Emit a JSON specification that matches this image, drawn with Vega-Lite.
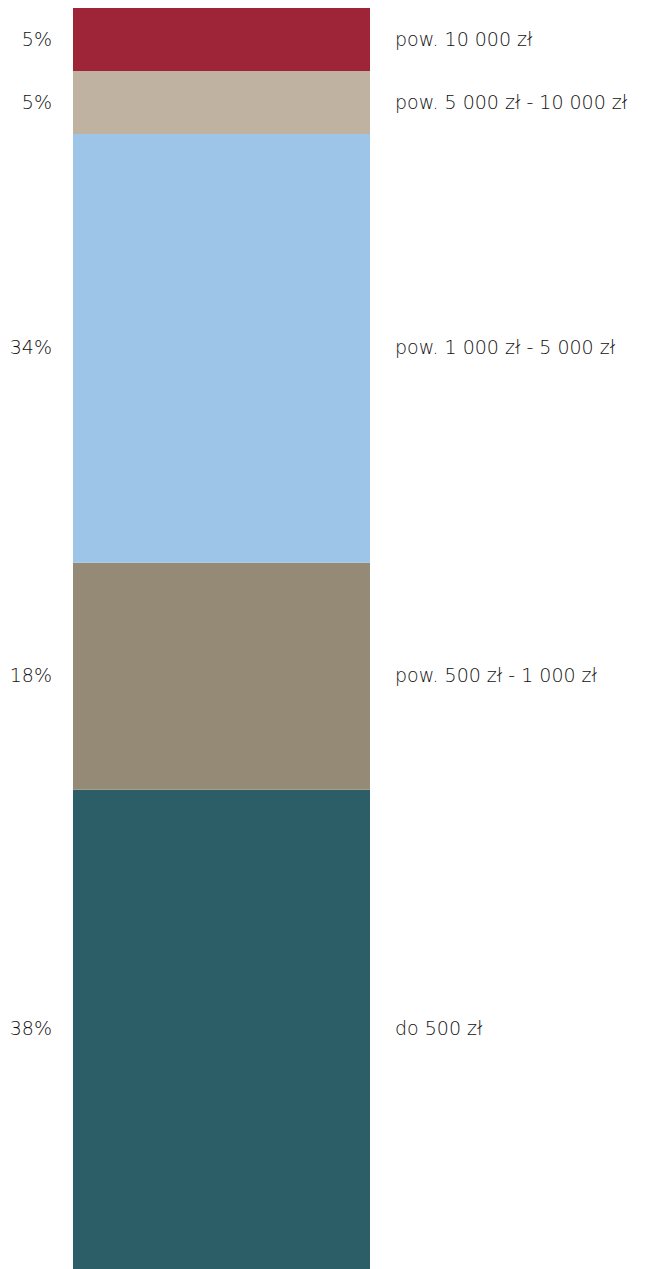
{
  "$schema": "https://vega.github.io/schema/vega-lite/v6.json",
  "width": 297,
  "height": 1261,
  "autosize": {"type": "none"},
  "padding": {"left": 73, "top": 8, "right": 294, "bottom": 0},
  "background": "white",
  "config": {"view": {"stroke": null}},
  "data": {
    "values": [
      {"rank": 1, "kategoria": "do 500 zł", "procent": 38},
      {"rank": 2, "kategoria": "pow. 500 zł - 1 000 zł", "procent": 18},
      {"rank": 3, "kategoria": "pow. 1 000 zł - 5 000 zł", "procent": 34},
      {"rank": 4, "kategoria": "pow. 5 000 zł - 10 000 zł", "procent": 5},
      {"rank": 5, "kategoria": "pow. 10 000 zł", "procent": 5}
    ]
  },
  "transform": [
    {"stack": "procent", "groupby": [], "sort": [{"field": "rank", "order": "ascending"}], "as": ["y0", "y1"]},
    {"calculate": "(datum.y0 + datum.y1) / 2", "as": "ymid"},
    {"calculate": "datum.procent + '%'", "as": "etykieta"}
  ],
  "layer": [
    {
      "mark": {"type": "bar", "stroke": null},
      "encoding": {
        "x": {"datum": 0, "type": "quantitative", "scale": {"domain": [0, 1]}, "axis": null},
        "x2": {"datum": 1},
        "y": {"field": "y0", "type": "quantitative", "scale": {"domain": [0, 100], "nice": false, "zero": true}, "axis": null},
        "y2": {"field": "y1"},
        "color": {
          "field": "kategoria",
          "type": "nominal",
          "legend": null,
          "scale": {
            "domain": ["do 500 zł", "pow. 500 zł - 1 000 zł", "pow. 1 000 zł - 5 000 zł", "pow. 5 000 zł - 10 000 zł", "pow. 10 000 zł"],
            "range": ["#2C5E68", "#958A75", "#9CC5E8", "#BFB2A0", "#9E2438"]
          }
        }
      }
    },
    {
      "mark": {"type": "text", "align": "right", "baseline": "middle", "dx": -21, "font": "DejaVu Sans", "fontWeight": 200, "fontSize": 19, "color": "#111111"},
      "encoding": {
        "x": {"datum": 0, "type": "quantitative"},
        "y": {"field": "ymid", "type": "quantitative"},
        "text": {"field": "etykieta"}
      }
    },
    {
      "mark": {"type": "text", "align": "left", "baseline": "middle", "dx": 25, "font": "DejaVu Sans", "fontWeight": 200, "fontSize": 19, "color": "#111111"},
      "encoding": {
        "x": {"datum": 1, "type": "quantitative"},
        "y": {"field": "ymid", "type": "quantitative"},
        "text": {"field": "kategoria"}
      }
    }
  ]
}
